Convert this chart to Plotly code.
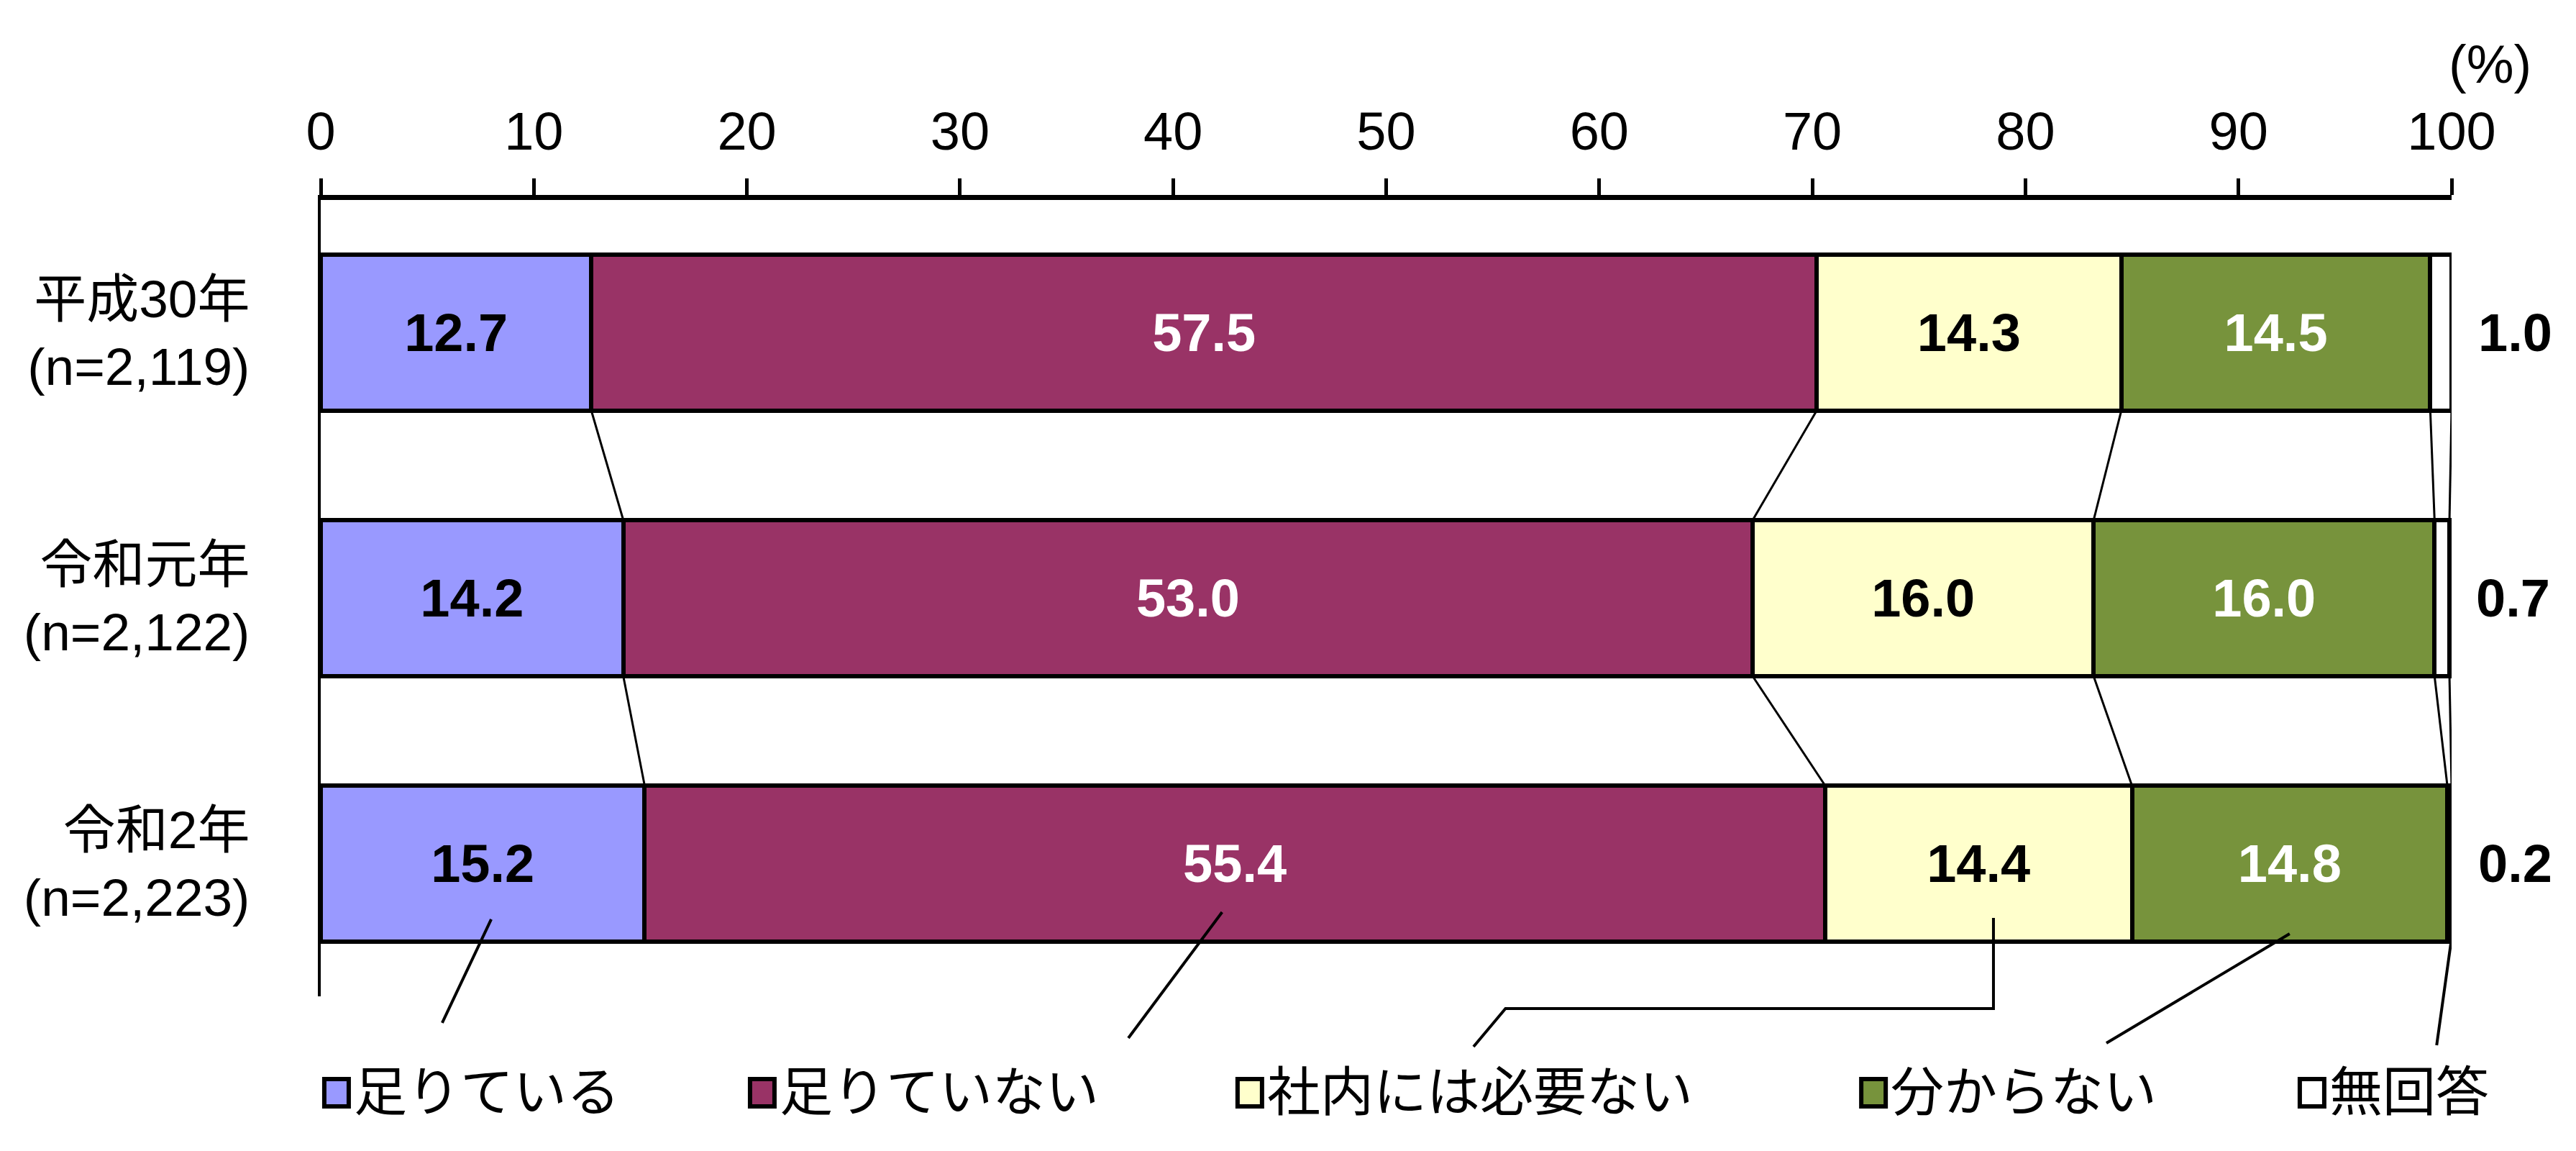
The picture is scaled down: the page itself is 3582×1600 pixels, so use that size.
import plotly.graph_objects as go

# survey years and sample sizes (top to bottom)
years = ["平成30年", "令和元年", "令和2年"]
sample_sizes = ["(n=2,119)", "(n=2,122)", "(n=2,223)"]

# answer categories and colours
answers = ["足りている", "足りていない", "社内には必要ない", "分からない", "無回答"]
colors = ["#9999FF", "#993366", "#FFFFCC", "#77933C", "#FFFFFF"]
label_colors = ["black", "white", "black", "white", "black"]

# shares (%) per answer, one value per year
enough = [12.7, 14.2, 15.2]
not_enough = [57.5, 53.0, 55.4]
not_needed = [14.3, 16.0, 14.4]
dont_know = [14.5, 16.0, 14.8]
no_answer = [1.0, 0.7, 0.2]

values = [enough, not_enough, not_needed, dont_know, no_answer]
x_ticks = list(range(0, 101, 10))

FONT = "Liberation Sans, Arial, Noto Sans CJK JP, sans-serif"
BAR_W = 0.588

categories = [f"{y}<br>{n}" for y, n in zip(years, sample_sizes)]

fig = go.Figure()
for i, (name, vals) in enumerate(zip(answers, values)):
    is_last = i == len(answers) - 1
    fig.add_trace(go.Bar(
        y=categories,
        x=vals,
        name=name,
        orientation="h",
        width=BAR_W,
        marker=dict(color=colors[i], line=dict(color="black", width=6)),
        text=None if is_last else [f"<b>{v:.1f}</b>" for v in vals],
        textposition="none" if is_last else "inside",
        insidetextanchor="middle",
        textangle=0,
        insidetextfont=dict(family=FONT, size=74, color=label_colors[i]),
        showlegend=False,
    ))

# cumulative boundaries of each stacked bar
cums = []
for r in range(len(years)):
    c, row = 0.0, []
    for vals in values:
        c += vals[r]
        row.append(c)
    cums.append(row)

shapes = []
# connector lines between neighbouring bars
for r in range(len(years) - 1):
    for k in range(len(answers)):
        shapes.append(dict(
            type="line", xref="x", yref="y",
            x0=cums[r][k], y0=r + BAR_W / 2,
            x1=cums[r + 1][k], y1=r + 1 - BAR_W / 2,
            line=dict(color="black", width=3),
        ))

# leader lines from the last bar to the legend
last = len(years) - 1
mids = [cums[last][k] - values[k][last] / 2 for k in range(len(answers))]
mids[-1] = cums[last][-1]
start_dx = [0.4, -0.6, 0.7, 0.0, 0.0]
starts_y = [0.0967, 0.1057, 0.0985, 0.0786, 0.0732]
ends_x = [5.7, 37.9, 54.1, 83.8, 99.3]
ends_y = [-0.0334, -0.0524, -0.0632, -0.0587, -0.0614]
for k in range(len(answers)):
    sx = mids[k] + start_dx[k]
    if k == 2:
        path = (f"M {sx},{starts_y[k]} L {sx},-0.0154 "
                f"L {ends_x[k] + 1.5},-0.0154 L {ends_x[k]},{ends_y[k]}")
        shapes.append(dict(type="path", xref="x", yref="paper", path=path,
                           line=dict(color="black", width=4)))
    else:
        shapes.append(dict(
            type="line", xref="x", yref="paper",
            x0=sx, y0=starts_y[k], x1=ends_x[k], y1=ends_y[k],
            line=dict(color="black", width=4),
        ))

# hand-made legend below the chart
legend_x = [0.0074, 0.2072, 0.4360, 0.7287, 0.9345]
legend_y = -0.121
annotations = []
for k, name in enumerate(answers):
    shapes.append(dict(
        type="rect", xref="paper", yref="paper",
        xsizemode="pixel", ysizemode="pixel",
        xanchor=legend_x[k], yanchor=legend_y,
        x0=-17, x1=17, y0=-19, y1=19,
        fillcolor=colors[k], line=dict(color="black", width=6),
    ))
    annotations.append(dict(
        x=legend_x[k], y=legend_y, xref="paper", yref="paper",
        xanchor="left", yanchor="middle", xshift=22,
        text=name, showarrow=False,
        font=dict(family=FONT, size=74, color="black"),
    ))

# no-answer values to the right of the bars
for r, cat in enumerate(categories):
    annotations.append(dict(
        x=cums[r][-1], y=cat, xref="x", yref="y",
        xanchor="center", yanchor="middle", xshift=88,
        text=f"<b>{no_answer[r]:.1f}</b>", showarrow=False,
        font=dict(family=FONT, size=74, color="black"),
    ))

annotations.append(dict(
    x=1.018, y=1.17, xref="paper", yref="paper",
    xanchor="center", yanchor="middle",
    text="(%)", showarrow=False,
    font=dict(family=FONT, size=74, color="black"),
))

fig.update_layout(
    barmode="stack",
    width=3582,
    height=1600,
    margin=dict(l=438, r=181, t=270, b=223),
    paper_bgcolor="white",
    plot_bgcolor="white",
    font=dict(family=FONT, size=72, color="black"),
    shapes=shapes,
    annotations=annotations,
    xaxis=dict(
        side="top",
        range=[0, 100],
        tickvals=x_ticks,
        ticks="outside",
        ticklen=23,
        tickwidth=5,
        tickcolor="black",
        showline=True,
        linewidth=7,
        linecolor="black",
        showgrid=False,
        zeroline=False,
        ticklabelstandoff=10,
        tickfont=dict(family=FONT, size=74),
    ),
    yaxis=dict(
        categoryorder="array",
        categoryarray=categories,
        range=[2.5, -0.5],
        showline=True,
        linewidth=4,
        linecolor="black",
        showgrid=False,
        ticks="",
        ticklabelstandoff=80,
        tickfont=dict(family=FONT, size=73),
    ),
)

fig.write_html("out.html")
